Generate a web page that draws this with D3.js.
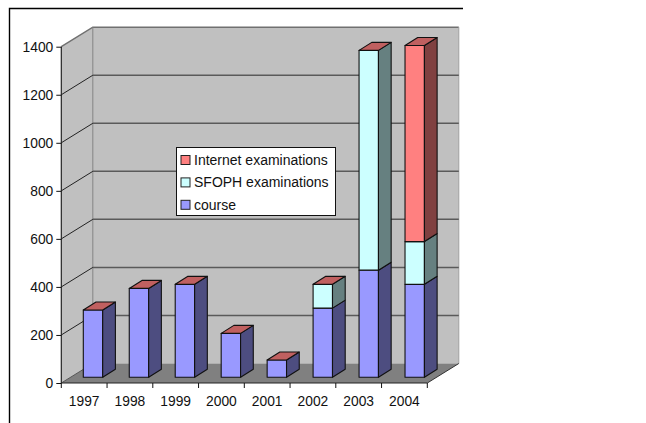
<!DOCTYPE html>
<html>
<head>
<meta charset="utf-8">
<script src="https://cdn.jsdelivr.net/npm/d3@7/dist/d3.min.js"></script>
<style>
  html, body { margin: 0; padding: 0; background: #fff; }
  svg { display: block; }
  text { font-family: "Liberation Sans", Arial, sans-serif; fill: #111; }
</style>
</head>
<body>
<svg id="chart" width="646" height="423"></svg>
<script>
// Yearly counts per activity type, bottom of the stack first
const years = ["1997", "1998", "1999", "2000", "2001", "2002", "2003", "2004"];
const course = [280, 370, 387, 183, 72, 288, 446, 387];
const sfoph = [0, 0, 0, 0, 0, 99, 915, 178];
const internet = [0, 0, 0, 0, 0, 0, 0, 816];
const yTicks = [0, 200, 400, 600, 800, 1000, 1200, 1400];

const seriesNames = ["course", "SFOPH examinations", "Internet examinations"];
const seriesValues = [course, sfoph, internet];
const frontColors = ["#9999ff", "#ccffff", "#ff8080"];
const sideColors = ["#4d4d80", "#668080", "#804040"];
const topColor = "#c06060";

const svg = d3.select("#chart");

// Oblique projection of the chart box
const wallDx = 31.5, wallDy = -19.5;
const barDx = 12.7, barDy = -8;
const barWidth = 19.4, barLift = 5.7;

const y = d3.scaleLinear().domain([0, 1400]).range([383, 46.7]);
const x = d3.scaleBand().domain(years).range([61.3, 427.3]);
const barX = d3.scaleBand().domain(years).range([83.3, 83.3 + 8 * 45.96]);

const poly = pts => pts.map(p => p.join(",")).join(" ");

const x0 = x.range()[0], x1 = x.range()[1], y0 = y(0), yTop = y(1400);

// Outer frame, running past the canvas on two sides
svg.append("path").attr("d", "M9.5,423V8.5H463")
  .attr("fill", "none").attr("stroke", "#000").attr("stroke-width", 1.4);

// Back wall, side wall, floor
svg.append("polygon")
  .attr("points", poly([[x0 + wallDx, y0 + wallDy], [x1 + wallDx, y0 + wallDy], [x1 + wallDx, yTop + wallDy], [x0 + wallDx, yTop + wallDy]]))
  .attr("fill", "#c0c0c0");
svg.append("polygon")
  .attr("points", poly([[x0, y0], [x0 + wallDx, y0 + wallDy], [x0 + wallDx, yTop + wallDy], [x0, yTop]]))
  .attr("fill", "#c0c0c0");
svg.append("polygon")
  .attr("points", poly([[x0, y0], [x0 + wallDx, y0 + wallDy], [x1 + wallDx, y0 + wallDy], [x1, y0]]))
  .attr("fill", "#808080");

// Wall edges
svg.append("path")
  .attr("d", `M${x0},${yTop}L${x0 + wallDx},${yTop + wallDy}H${x1 + wallDx}`)
  .attr("fill", "none").attr("stroke", "#707070").attr("stroke-width", 1.5);
svg.append("path")
  .attr("d", `M${x0 + wallDx},${yTop + wallDy}V${y0 + wallDy}`)
  .attr("fill", "none").attr("stroke", "#808080").attr("stroke-width", 1);
svg.append("path")
  .attr("d", `M${x1 + wallDx},${yTop + wallDy}V${y0 + wallDy}`)
  .attr("fill", "none").attr("stroke", "#a0a0a0").attr("stroke-width", 1);

// Gridlines across the back wall and down the side wall
const grid = svg.append("g");
yTicks.filter(t => t > 0 && t < 1400).forEach(t => {
  grid.append("line")
    .attr("x1", x0 + wallDx).attr("x2", x1 + wallDx)
    .attr("y1", y(t) + wallDy).attr("y2", y(t) + wallDy)
    .attr("stroke", "#5a5a5a").attr("stroke-width", 1.5);
  grid.append("line")
    .attr("x1", x0).attr("x2", x0 + wallDx)
    .attr("y1", y(t)).attr("y2", y(t) + wallDy)
    .attr("stroke", "#222").attr("stroke-width", 1);
});
svg.append("line")
  .attr("x1", x0).attr("y1", y0).attr("x2", x0 + wallDx).attr("y2", y0 + wallDy)
  .attr("stroke", "#555").attr("stroke-width", 1);
svg.append("line")
  .attr("x1", x1).attr("y1", y0).attr("x2", x1 + wallDx).attr("y2", y0 + wallDy)
  .attr("stroke", "#333").attr("stroke-width", 1);

// Stacked 3D columns
const bars = svg.append("g").attr("stroke", "#111").attr("stroke-width", 1.1).attr("stroke-linejoin", "round");
years.forEach((year, i) => {
  const left = barX(year), right = left + barWidth;
  let sum = 0;
  seriesValues.forEach((values, s) => {
    const v = values[i];
    if (!v) return;
    const yLow = y(sum) - barLift, yHigh = y(sum + v) - barLift;
    sum += v;
    bars.append("polygon")
      .attr("points", poly([[left, yLow], [right, yLow], [right, yHigh], [left, yHigh]]))
      .attr("fill", frontColors[s]);
    bars.append("polygon")
      .attr("points", poly([[right, yLow], [right + barDx, yLow + barDy], [right + barDx, yHigh + barDy], [right, yHigh]]))
      .attr("fill", sideColors[s]);
  });
  const yEnd = y(sum) - barLift;
  bars.append("polygon")
    .attr("points", poly([[left, yEnd], [right, yEnd], [right + barDx, yEnd + barDy], [left + barDx, yEnd + barDy]]))
    .attr("fill", topColor);
});

// Axes
const yAxis = d3.axisLeft(y).tickValues(yTicks).tickFormat(d3.format("d")).tickSize(5).tickPadding(3);
const xAxis = d3.axisBottom(x).tickSize(0).tickPadding(13);

const gy = svg.append("g").attr("transform", `translate(${x0},0)`).call(yAxis);
const gx = svg.append("g").attr("transform", `translate(0,${y0})`).call(xAxis);
[gy, gx].forEach(g => {
  g.attr("font-size", null).attr("font-family", null);
  g.selectAll("text").style("font-size", "13.8px").style("fill", "#111");
  g.selectAll("line").attr("stroke", "#111");
  g.select(".domain").attr("stroke", "#222").attr("stroke-width", 1.2);
});
gy.select(".domain").attr("d", `M0,${y0}V${yTop}`);
gx.select(".domain").attr("d", `M${x0},0H${x1}`);

// Category separators below the floor edge
gx.selectAll(".sep").data(d3.range(years.length + 1)).join("line")
  .attr("class", "sep")
  .attr("x1", i => x0 + i * x.step()).attr("x2", i => x0 + i * x.step())
  .attr("y1", 0).attr("y2", 5)
  .attr("stroke", "#111");

// Legend
const legend = svg.append("g");
legend.append("rect")
  .attr("x", 176.5).attr("y", 147.5).attr("width", 159).attr("height", 68)
  .attr("fill", "#fff").attr("stroke", "#111").attr("stroke-width", 1);
[2, 1, 0].forEach((s, row) => {
  const cy = 160 + row * 22.4;
  legend.append("rect")
    .attr("x", 181).attr("y", cy - 4.5).attr("width", 9).attr("height", 9)
    .attr("fill", frontColors[s]).attr("stroke", "#222").attr("stroke-width", 1);
  legend.append("text")
    .attr("x", 194).attr("y", cy + 5)
    .style("font-size", "14px")
    .text(seriesNames[s]);
});
</script>
</body>
</html>
